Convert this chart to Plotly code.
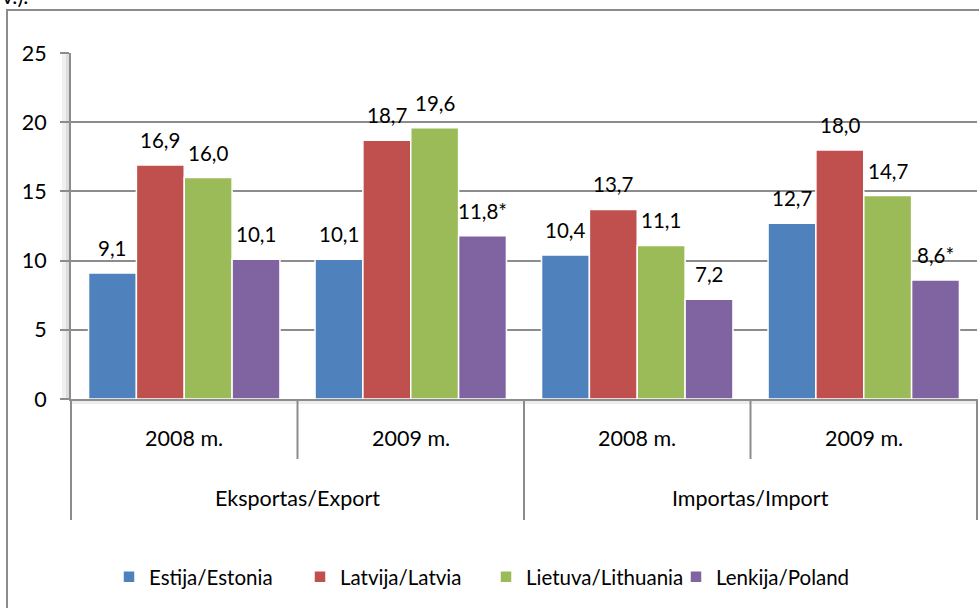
import plotly.graph_objects as go

# categories
groups = ["Eksportas/Export", "Eksportas/Export", "Importas/Import", "Importas/Import"]
years = ["2008 m.", "2009 m.", "2008 m.", "2009 m."]
countries = ["Estija/Estonia", "Latvija/Latvia", "Lietuva/Lithuania", "Lenkija/Poland"]

# values (%)
estonia = [9.1, 10.1, 10.4, 12.7]
latvia = [16.9, 18.7, 13.7, 18.0]
lithuania = [16.0, 19.6, 11.1, 14.7]
poland = [10.1, 11.8, 7.2, 8.6]
poland_estimate = [False, True, False, True]  # marked with *

y_ticks = [0, 5, 10, 15, 20, 25]

series = [estonia, latvia, lithuania, poland]
colors = ["#4F81BD", "#C0504D", "#9BBB59", "#8064A2"]
legend_widths = [146, 141, 145, 144]
font = "Lato"
fsize = 21.5
grey = "#8c8c8c"

# layout geometry (px)
W, H = 979, 608
L, R, T, B = 71, 2, 53, 209
plot_w = W - L - R
plot_h = H - T - B
bargap = 0.155
bar_px = plot_w / len(years) * (1 - bargap) / len(series)

cats = [f"{g} | {y}" for g, y in zip(groups, years)]


def fmt(v, star=False):
    return f"{v:.1f}".replace(".", ",") + ("*" if star else "")


def py(px_from_top):
    # page pixel row -> paper y
    return (H - B - px_from_top) / plot_h


fig = go.Figure()
for j, (name, vals, col) in enumerate(zip(countries, series, colors)):
    fig.add_trace(go.Bar(
        x=cats, y=vals, name=name,
        marker=dict(color=col, line=dict(color="white", width=1.5)),
        legendwidth=legend_widths[j],
        hoverinfo="y+name",
    ))

annotations = []
# data labels above bars
for j, vals in enumerate(series):
    for i, v in enumerate(vals):
        star = poland_estimate[i] if j == 3 else False
        annotations.append(dict(
            x=cats[i], y=v, xref="x", yref="y", text=fmt(v, star),
            showarrow=False, xanchor="center", yanchor="middle",
            xshift=(j - 1.5) * bar_px, yshift=25,
            font=dict(family=font, size=20.5, color="black"),
        ))

# category labels (two rows)
n = len(years)
for i, yr in enumerate(years):
    annotations.append(dict(
        x=(i + 0.5) / n, y=py(438), xref="paper", yref="paper",
        xanchor="center", yanchor="middle",
        text=yr, showarrow=False, font=dict(family=font, size=fsize, color="black"),
    ))
outer = []
for g in groups:
    if g not in outer:
        outer.append(g)
for k, g in enumerate(outer):
    annotations.append(dict(
        x=(k + 0.5) / len(outer), y=py(498), xref="paper", yref="paper",
        xanchor="center", yanchor="middle",
        text=g, showarrow=False, font=dict(family=font, size=fsize, color="black"),
    ))

# clipped text from page above
annotations.append(dict(
    x=-L / plot_w, y=py(-4), xref="paper", yref="paper", xanchor="left",
    yanchor="middle", text="v.).", showarrow=False,
    font=dict(family=font, size=fsize, color="black"),
))

shapes = []
# outer chart border
shapes.append(dict(type="rect", xref="paper", yref="paper",
                   x0=(7 - L) / plot_w, x1=(W + 20 - L) / plot_w,
                   y0=py(H + 20), y1=py(10),
                   line=dict(color=grey, width=2), layer="below"))
# wall / floor shading
for off, op in [(9, 0.06), (5, 0.08), (2, 0.1)]:
    shapes.append(dict(type="rect", xref="paper", yref="paper",
                       x0=-off / plot_w, x1=0, y0=0, y1=1,
                       fillcolor=f"rgba(0,0,0,{op})", line=dict(width=0), layer="below"))
for off, op in [(5, 0.07), (2, 0.09)]:
    shapes.append(dict(type="rect", xref="paper", yref="paper",
                       x0=0, x1=1, y0=-off / plot_h, y1=0,
                       fillcolor=f"rgba(0,0,0,{op})", line=dict(width=0), layer="below"))
# dividers
for i in range(n + 1):
    is_outer = i in (0, n // 2, n)
    bottom = py(520) if is_outer else py(459)
    shapes.append(dict(type="line", xref="paper", yref="paper",
                       x0=i / n, x1=i / n, y0=0, y1=bottom,
                       line=dict(color=grey, width=2)))

fig.update_layout(
    width=W, height=H,
    margin=dict(l=L, r=R, t=T, b=B),
    paper_bgcolor="white", plot_bgcolor="white",
    barmode="group", bargap=bargap, bargroupgap=0,
    font=dict(family=font, size=fsize, color="black"),
    showlegend=True,
    legend=dict(orientation="h", x=(109 - L) / plot_w, xanchor="left",
                y=py(577), yanchor="middle", font=dict(family=font, size=20.5),
                itemwidth=30, entrywidthmode="pixels"),
    xaxis=dict(showticklabels=False, showgrid=False, ticks="",
               showline=True, linecolor=grey, linewidth=2),
    yaxis=dict(range=[0, 25], tickvals=y_ticks, showgrid=True,
               gridcolor=grey, gridwidth=1.5, zeroline=False,
               showline=True, linecolor=grey, linewidth=2,
               ticks="outside", ticklen=9, tickcolor=grey, tickwidth=1.5,
               ticklabelstandoff=9, tickfont=dict(family=font, size=fsize)),
    annotations=annotations,
    shapes=shapes,
)

fig.write_html("out.html", config={"displayModeBar": False},
               post_script="document.body.style.margin='0';")
